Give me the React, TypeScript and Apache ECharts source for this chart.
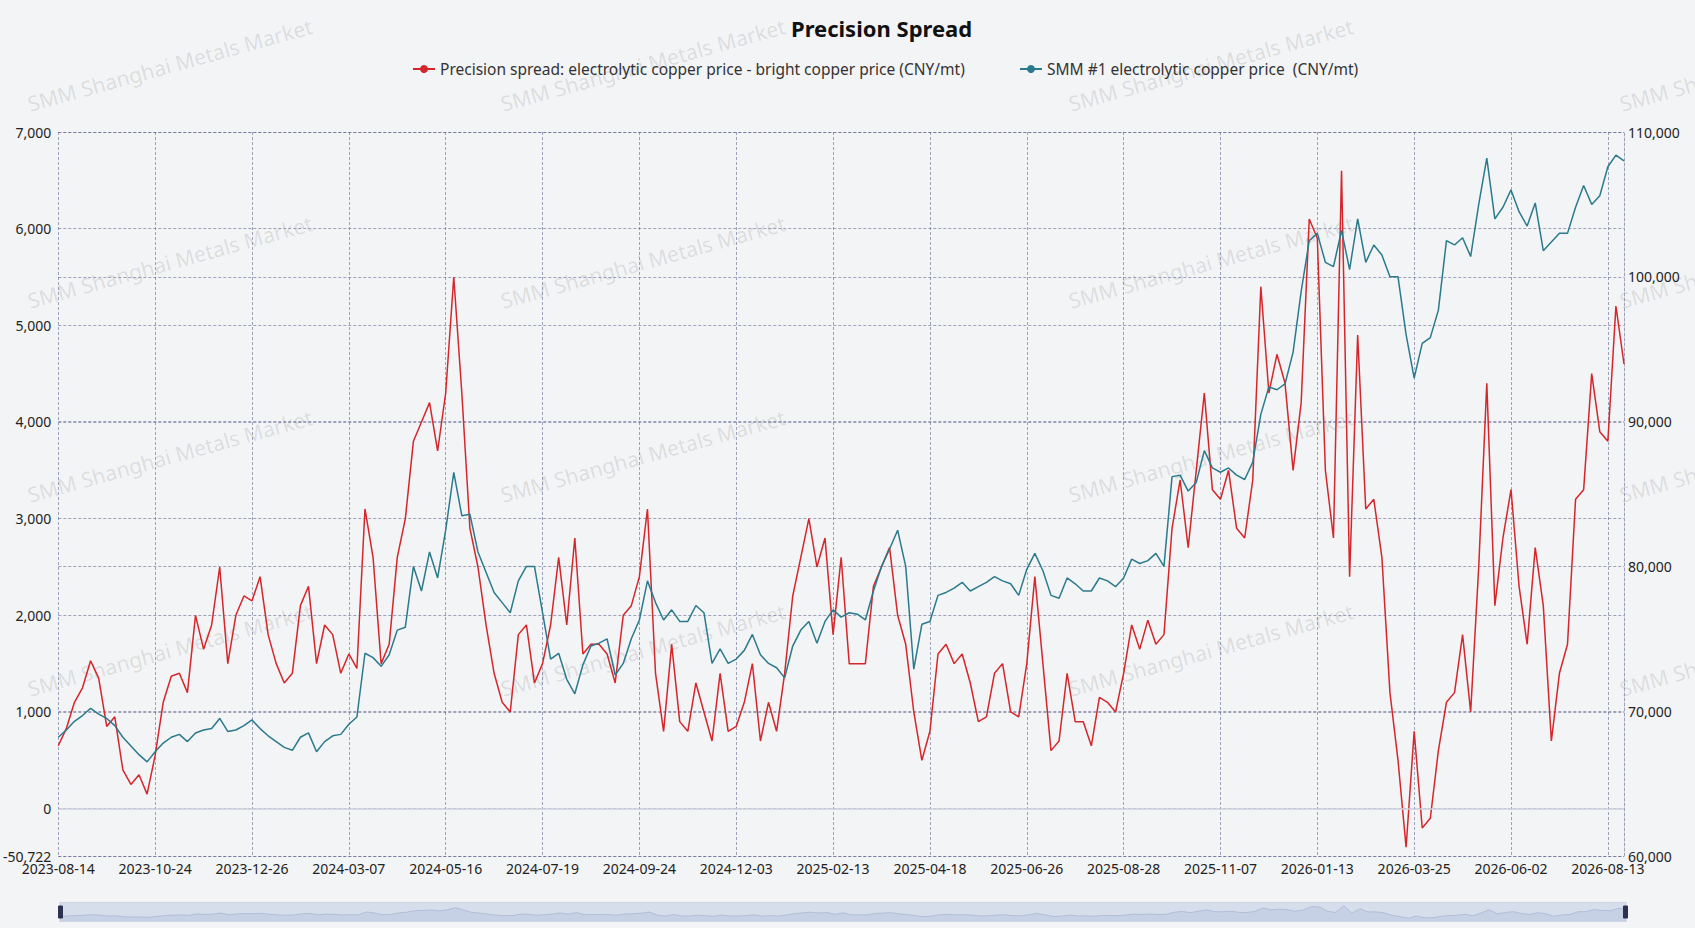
import React, { useEffect, useRef } from "react";
import * as echarts from "echarts";

// labelled dates on the x axis (every 12th point)
const tickDates = [
  "2023-08-14", "2023-10-24", "2023-12-26", "2024-03-07", "2024-05-16",
  "2024-07-19", "2024-09-24", "2024-12-03", "2025-02-13", "2025-04-18",
  "2025-06-26", "2025-08-28", "2025-11-07", "2026-01-13", "2026-03-25",
  "2026-06-02", "2026-08-13",
];
const tailDates = ["2026-08-14", "2026-08-17"];
const stepsPerTick = 12;

// precision spread, CNY/mt (left axis)
const spread = [
  650, 830, 1100, 1250, 1530, 1350, 850, 950, 400, 250, 350, 150,
  550, 1100, 1370, 1400, 1200, 2000, 1650, 1900, 2500, 1500, 2000, 2200,
  2150, 2400, 1800, 1500, 1300, 1400, 2100, 2300, 1500, 1900, 1800, 1400,
  1600, 1450, 3100, 2600, 1500, 1700, 2600, 3000, 3800, 4000, 4200, 3700,
  4300, 5500, 4300, 2900, 2500, 1900, 1400, 1100, 1000, 1800, 1900, 1300,
  1500, 1900, 2600, 1900, 2800, 1600, 1700, 1700, 1600, 1300, 2000, 2100,
  2400, 3100, 1400, 800, 1700, 900, 800, 1300, 1000, 700, 1400, 800,
  850, 1100, 1500, 700, 1100, 800, 1400, 2200, 2600, 3000, 2500, 2800,
  1800, 2600, 1500, 1500, 1500, 2300, 2500, 2700, 2000, 1700, 1000, 500,
  800, 1600, 1700, 1500, 1600, 1300, 900, 950, 1400, 1500, 1000, 950,
  1500, 2400, 1500, 600, 700, 1400, 900, 900, 650, 1150, 1100, 1000,
  1400, 1900, 1650, 1950, 1700, 1800, 2900, 3400, 2700, 3500, 4300, 3300,
  3200, 3500, 2900, 2800, 3400, 5400, 4300, 4700, 4400, 3500, 4200, 6100,
  5900, 3500, 2800, 6600, 2400, 4900, 3100, 3200, 2600, 1200, 500, -400,
  800, -200, -100, 600, 1100, 1200, 1800, 1000, 2500, 4400, 2100, 2800,
  3300, 2300, 1700, 2700, 2100, 700, 1400, 1700, 3200, 3300, 4500, 3900,
  3800, 5200, 4600,
];

// SMM #1 electrolytic copper price, CNY/mt (right axis)
const copperPrice = [
  68200, 68700, 69300, 69700, 70200, 69800, 69500, 69000, 68200, 67600, 67000, 66500,
  67200, 67800, 68200, 68400, 67900, 68500, 68700, 68800, 69500, 68600, 68700, 69000,
  69400, 68800, 68300, 67900, 67500, 67300, 68200, 68500, 67200, 67900, 68300, 68400,
  69100, 69600, 74000, 73700, 73100, 73900, 75600, 75800, 80000, 78300, 81000, 79200,
  82500, 86500, 83500, 83600, 81000, 79600, 78200, 77500, 76800, 79000, 80000, 80000,
  76800, 73600, 74000, 72200, 71200, 73200, 74500, 74700, 75000, 72500, 73300, 75000,
  76300, 79000, 77500, 76300, 77000, 76200, 76200, 77300, 76800, 73300, 74300, 73300,
  73600, 74200, 75300, 73900, 73300, 73000, 72300, 74500, 75600, 76200, 74700, 76200,
  77000, 76500, 76800, 76700, 76300, 78300, 80000, 81200, 82500, 80000, 72900, 76000,
  76200, 78000, 78200, 78500, 78900, 78300, 78600, 78900, 79300, 79000, 78800, 78000,
  79800, 80900, 79700, 78000, 77800, 79200, 78800, 78300, 78300, 79200, 79000, 78600,
  79200, 80500, 80200, 80400, 80900, 80000, 86200, 86300, 85200, 85800, 88000, 86800,
  86500, 86800, 86300, 86000, 87200, 90500, 92400, 92200, 92600, 94800, 99000, 102500,
  103000, 101000, 100700, 103200, 100500, 104000, 101000, 102200, 101500, 100000, 100000, 96000,
  93000, 95400, 95800, 97700, 102500, 102200, 102700, 101400, 105000, 108200, 104000, 104800,
  106000, 104500, 103500, 105100, 101800, 102400, 103000, 103000, 104800, 106300, 105000, 105600,
  107600, 108400, 108000,
];

const spreadName = "Precision spread: electrolytic copper price - bright copper price (CNY/mt)";
const copperName = "SMM #1 electrolytic copper price  (CNY/mt)";
const spreadMin = -490;
const spreadMinLabel = "-50,722";
const watermarkText = "SMM Shanghai Metals Market";

const RED = "#d5262b";
const TEAL = "#2b7a8c";
const FONT = "'Noto Sans', sans-serif";
const gridDash = { type: [3, 2], color: "rgba(88,92,140,0.55)", width: 1 };

function buildDates(): string[] {
  const out: string[] = [];
  for (let i = 0; i < tickDates.length - 1; i++) {
    const a = Date.parse(tickDates[i] + "T00:00:00Z");
    const b = Date.parse(tickDates[i + 1] + "T00:00:00Z");
    for (let s = 0; s < stepsPerTick; s++) {
      out.push(new Date(a + ((b - a) * s) / stepsPerTick).toISOString().slice(0, 10));
    }
  }
  out.push(tickDates[tickDates.length - 1], ...tailDates);
  return out;
}

const fmt = (v: number) => Math.round(v).toLocaleString("en-US");

const App = () => {
  const chartRef = useRef<HTMLDivElement>(null);

  useEffect(() => {
    if (!chartRef.current) return;
    const chart = echarts.init(chartRef.current, undefined, { renderer: "svg" });
    const dates = buildDates();

    const watermarks: any[] = [];
    [170, 643, 1211, 1762].forEach((x) => {
      [65, 262, 456, 650].forEach((y) => {
        watermarks.push({
          type: "text",
          x,
          y,
          rotation: (15.5 * Math.PI) / 180,
          silent: true,
          z: 0,
          style: {
            text: watermarkText,
            fill: "rgba(0,0,0,0.11)",
            font: `21px ${FONT}`,
            align: "center",
            verticalAlign: "middle",
          },
        });
      });
    });

    const legendText = { fontSize: 15.5, color: "#333", fontFamily: FONT };

    const options = {
      animation: false,
      backgroundColor: "#f3f4f6",
      textStyle: { fontFamily: FONT },
      title: {
        text: "Precision Spread",
        left: 786,
        top: 12,
        textStyle: { fontSize: 22, fontWeight: "bold", color: "#111", fontFamily: FONT },
      },
      legend: [
        {
          data: [spreadName],
          left: 407,
          top: 56,
          itemWidth: 22,
          itemHeight: 10,
          textStyle: legendText,
        },
        {
          data: [copperName],
          left: 1014,
          top: 56,
          itemWidth: 22,
          itemHeight: 10,
          textStyle: legendText,
        },
      ],
      graphic: watermarks,
      grid: { left: 57, right: 71, top: 132, bottom: 72 },
      xAxis: {
        type: "category",
        data: dates,
        boundaryGap: false,
        axisLine: { show: false },
        axisTick: { show: false },
        axisLabel: { interval: stepsPerTick - 1, fontSize: 14, color: "#222", margin: 5 },
        splitLine: { show: true, interval: stepsPerTick - 1, lineStyle: gridDash },
      },
      yAxis: [
        {
          type: "value",
          min: spreadMin,
          max: 7000,
          splitNumber: 7,
          axisLine: { show: false },
          axisTick: { show: false },
          axisLabel: {
            fontSize: 14,
            color: "#222",
            margin: 7,
            formatter: (v: number) => (v === spreadMin ? spreadMinLabel : fmt(v)),
          },
          splitLine: { show: true, lineStyle: gridDash },
        },
        {
          type: "value",
          position: "right",
          min: 60000,
          max: 110000,
          interval: 10000,
          axisLine: { show: true, lineStyle: gridDash },
          axisTick: { show: false },
          axisLabel: { fontSize: 14, color: "#222", margin: 4, formatter: fmt },
          splitLine: { show: true, lineStyle: gridDash },
        },
      ],
      dataZoom: [
        {
          type: "slider",
          xAxisIndex: 0,
          start: 0,
          end: 100,
          left: 57,
          right: 71,
          bottom: 6,
          height: 20,
          showDetail: false,
          brushSelect: false,
          borderColor: "#cdd4e2",
          backgroundColor: "rgba(214,221,235,0.55)",
          fillerColor: "rgba(190,202,226,0.35)",
          handleIcon: "path://M0,0H4V12H0Z",
          handleSize: "60%",
          handleStyle: { color: "#2d3152", borderColor: "#2d3152" },
          moveHandleSize: 5,
          moveHandleStyle: { color: "#d3d8e3", opacity: 1 },
          dataBackground: {
            lineStyle: { color: "#a9b7d3", width: 1 },
            areaStyle: { color: "#c2cde1", opacity: 0.7 },
          },
          selectedDataBackground: {
            lineStyle: { color: "#a9b7d3", width: 1 },
            areaStyle: { color: "#c2cde1", opacity: 0.7 },
          },
        },
      ],
      series: [
        {
          name: spreadName,
          type: "line",
          yAxisIndex: 0,
          data: spread,
          symbol: "circle",
          symbolSize: 8,
          showSymbol: false,
          lineStyle: { color: RED, width: 1.5 },
          itemStyle: { color: RED },
          markLine: {
            silent: true,
            symbol: "none",
            label: { show: false },
            lineStyle: { color: "#cfd3de", type: "solid", width: 1.5 },
            data: [{ yAxis: 0 }],
          },
        },
        {
          name: copperName,
          type: "line",
          yAxisIndex: 1,
          data: copperPrice,
          symbol: "circle",
          symbolSize: 8,
          showSymbol: false,
          lineStyle: { color: TEAL, width: 1.5 },
          itemStyle: { color: TEAL },
        },
      ],
    };

    chart.setOption(options);

    return () => {
      chart.dispose();
    };
  }, []);

  return (
    <div
      ref={chartRef}
      style={{ position: "fixed", left: 0, top: 0, width: "100vw", height: "100vh" }}
    />
  );
};

export default App;
